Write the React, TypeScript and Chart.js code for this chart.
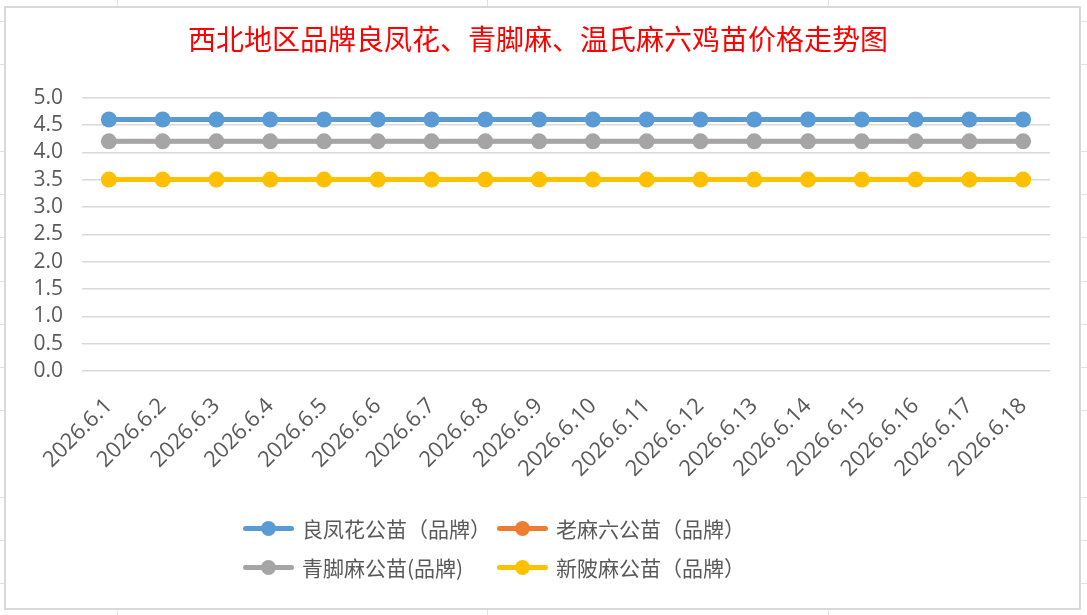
import { useRef, useEffect } from 'react';
import { Chart, registerables, type ChartConfiguration } from 'chart.js';

Chart.register(...registerables);

// 日期（横轴）
const dates = [
    '2026.6.1', '2026.6.2', '2026.6.3', '2026.6.4', '2026.6.5', '2026.6.6',
    '2026.6.7', '2026.6.8', '2026.6.9', '2026.6.10', '2026.6.11', '2026.6.12',
    '2026.6.13', '2026.6.14', '2026.6.15', '2026.6.16', '2026.6.17', '2026.6.18',
];

const seriesNames = ['良凤花公苗（品牌）', '老麻六公苗（品牌）', '青脚麻公苗(品牌)', '新陂麻公苗（品牌）'];
const seriesColors = ['#5b9bd5', '#ed7d31', '#a5a5a5', '#ffc000'];

// 价格（元）
const liangfenghua = [4.6, 4.6, 4.6, 4.6, 4.6, 4.6, 4.6, 4.6, 4.6, 4.6, 4.6, 4.6, 4.6, 4.6, 4.6, 4.6, 4.6, 4.6];
const laomaliu = [4.2, 4.2, 4.2, 4.2, 4.2, 4.2, 4.2, 4.2, 4.2, 4.2, 4.2, 4.2, 4.2, 4.2, 4.2, 4.2, 4.2, 4.2];
const qingjiaoma = [4.2, 4.2, 4.2, 4.2, 4.2, 4.2, 4.2, 4.2, 4.2, 4.2, 4.2, 4.2, 4.2, 4.2, 4.2, 4.2, 4.2, 4.2];
const xinpima = [3.5, 3.5, 3.5, 3.5, 3.5, 3.5, 3.5, 3.5, 3.5, 3.5, 3.5, 3.5, 3.5, 3.5, 3.5, 3.5, 3.5, 3.5];

const seriesValues = [liangfenghua, laomaliu, qingjiaoma, xinpima];

const yTicks = { min: 0, max: 5, step: 0.5 };

const title = '西北地区品牌良凤花、青脚麻、温氏麻六鸡苗价格走势图';

const tickFont = "'Open Sans', 'Noto Sans', sans-serif";
const cjkFont = "'Noto Sans CJK SC', sans-serif";

function PriceChart() {
    const chartRef = useRef<HTMLCanvasElement>(null);

    useEffect(() => {
        if (!chartRef.current) return;
        const config = {
            type: 'line',
            data: {
                labels: dates,
                datasets: seriesNames.map((name, i) => ({
                    label: name,
                    data: seriesValues[i],
                    borderColor: seriesColors[i],
                    backgroundColor: seriesColors[i],
                    // orange sits under the grey line, keep it a hair thinner so no edge shows
                    borderWidth: i === 1 ? 4 : 5,
                    pointRadius: i === 1 ? 7 : 8,
                    pointHoverRadius: 8,
                    pointBorderWidth: 0,
                    // excel draws later series on top
                    order: seriesNames.length - i,
                })),
            },
            options: {
                animation: false,
                responsive: true,
                maintainAspectRatio: false,
                layout: { padding: { left: 0, right: 9, top: 0, bottom: 0 } },
                plugins: {
                    legend: { display: false },
                    tooltip: { enabled: false },
                    title: {
                        display: true,
                        text: title,
                        color: '#ff0000',
                        font: { family: cjkFont, size: 28, weight: 'normal', lineHeight: 1.2 },
                        padding: { top: 15, bottom: 41 },
                    },
                },
                scales: {
                    x: {
                        offset: true,
                        grid: { display: false },
                        border: { display: false },
                        ticks: {
                            color: '#595959',
                            font: { family: tickFont, size: 22 },
                            minRotation: 45,
                            maxRotation: 45,
                            autoSkip: false,
                            padding: 14,
                        },
                        afterFit: (scale: any) => { scale.height = 237; },
                    },
                    y: {
                        min: yTicks.min,
                        max: yTicks.max,
                        border: { display: false },
                        grid: { color: '#d9d9d9', lineWidth: 1.5, drawTicks: false },
                        ticks: {
                            stepSize: yTicks.step,
                            autoSkip: false,
                            maxTicksLimit: 20,
                            color: '#595959',
                            font: { family: tickFont, size: 21, lineHeight: 1 },
                            padding: 19,
                            callback: (v: any) => Number(v).toFixed(1),
                        },
                        afterFit: (scale: any) => { scale.width = 76; },
                    },
                    // empty space on the right of the plot
                    spacer: {
                        type: 'linear',
                        position: 'right',
                        display: true,
                        grid: { display: false },
                        border: { display: false },
                        ticks: { display: false },
                        afterFit: (scale: any) => { scale.width = 20; },
                    },
                },
            },
        };

        const chart = new Chart(chartRef.current, config as ChartConfiguration);
        return () => {
            chart.destroy();
        };
    }, []);

    return (
        <div style={{ position: 'absolute', left: 4, top: 6, width: 1077, height: 604, border: '2px solid #d9d9d9', boxSizing: 'border-box', background: '#fff' }}>
            <canvas ref={chartRef}></canvas>
            <div style={{ position: 'absolute', left: 237, top: 507, display: 'grid', gridTemplateColumns: '254px auto', rowGap: 13 }}>
                {seriesNames.map((name, i) => (
                    <div key={name} style={{ display: 'flex', alignItems: 'center', height: 26 }}>
                        <div style={{ position: 'relative', width: 51, height: 5, borderRadius: 3, background: seriesColors[i], marginRight: 8 }}>
                            <div style={{ position: 'absolute', left: 18, top: -5, width: 15, height: 15, borderRadius: '50%', background: seriesColors[i] }}></div>
                        </div>
                        <span style={{ fontFamily: cjkFont, fontSize: 21, color: '#595959', whiteSpace: 'nowrap' }}>{name}</span>
                    </div>
                ))}
            </div>
        </div>
    );
}

export default function App() {
    // spreadsheet grid behind the chart
    return (
        <div style={{
            position: 'absolute', left: 0, top: 0, width: 1087, height: 615, overflow: 'hidden',
            background: 'repeating-linear-gradient(to bottom, transparent 0px, transparent 21px, #e1e1e1 21px, #e1e1e1 22px, transparent 22px, transparent 43.25px)',
        }}>
            {[117, 487, 828].map(x => (
                <div key={x} style={{ position: 'absolute', left: x, top: 0, width: 1, height: 615, background: '#e1e1e1' }}></div>
            ))}
            <PriceChart />
        </div>
    );
}
